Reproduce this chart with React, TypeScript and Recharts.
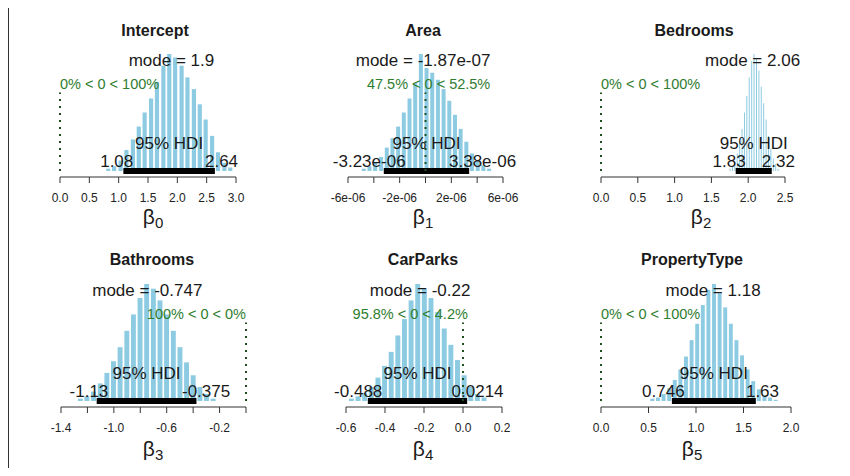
import React from 'react';
import { BarChart, Bar, XAxis, YAxis, ReferenceLine, ReferenceDot } from 'recharts';

const FONT = '"Liberation Sans", Arial, sans-serif';

// panel texts and summary numbers
const titles = ['Intercept', 'Area', 'Bedrooms', 'Bathrooms', 'CarParks', 'PropertyType'];
const modeValues = [1.9, -1.87e-7, 2.06, -0.747, -0.22, 1.18];
const modeLabels = ['1.9', '-1.87e-07', '2.06', '-0.747', '-0.22', '1.18'];
const hdiLow = [1.08, -3.23e-6, 1.83, -1.13, -0.488, 0.746];
const hdiHigh = [2.64, 3.38e-6, 2.32, -0.375, 0.0214, 1.63];
const hdiLowLabels = ['1.08', '-3.23e-06', '1.83', '-1.13', '-0.488', '0.746'];
const hdiHighLabels = ['2.64', '3.38e-06', '2.32', '-0.375', '0.0214', '1.63'];
const pctBelow = [0, 47.5, 0, 100, 95.8, 0];
const pctAbove = [100, 52.5, 100, 0, 4.2, 100];

const tickValues = [
  [0, 0.5, 1, 1.5, 2, 2.5, 3],
  [-6e-6, -4e-6, -2e-6, 0, 2e-6, 4e-6, 6e-6],
  [0, 0.5, 1, 1.5, 2, 2.5],
  [-1.4, -1.2, -1.0, -0.8, -0.6, -0.4, -0.2, 0],
  [-0.6, -0.4, -0.2, 0, 0.2],
  [0, 0.5, 1, 1.5, 2],
];
const tickLabels = [
  ['0.0', '0.5', '1.0', '1.5', '2.0', '2.5', '3.0'],
  ['-6e-06', '', '-2e-06', '', '2e-06', '', '6e-06'],
  ['0.0', '0.5', '1.0', '1.5', '2.0', '2.5'],
  ['-1.4', '', '-1.0', '', '-0.6', '', '-0.2', ''],
  ['-0.6', '-0.4', '-0.2', '0.0', '0.2'],
  ['0.0', '0.5', '1.0', '1.5', '2.0'],
];

// histogram bins: centers and heights (% of tallest bar)
const interceptX = [0.82, 0.92, 1.03, 1.13, 1.24, 1.34, 1.44, 1.55, 1.65, 1.76, 1.86, 1.96, 2.07, 2.17, 2.28, 2.38, 2.48, 2.59, 2.69, 2.8, 2.9];
const interceptH = [2, 4, 9, 18, 27, 38, 50, 62, 76, 90, 100, 97, 90, 80, 70, 57, 44, 30, 16, 7, 3];
const areaX = [-4.79e-6, -4.35e-6, -3.91e-6, -3.45e-6, -3.01e-6, -2.57e-6, -2.13e-6, -1.69e-6, -1.25e-6, -0.81e-6, -0.37e-6, 0.07e-6, 0.51e-6, 0.95e-6, 1.39e-6, 1.83e-6, 2.27e-6, 2.71e-6, 3.15e-6, 3.59e-6, 4.03e-6, 4.47e-6, 4.91e-6];
const areaH = [2, 4, 7, 12, 20, 28, 38, 50, 62, 75, 100, 88, 84, 78, 70, 60, 48, 36, 25, 15, 9, 5, 2];
const bedroomsX = [1.749, 1.781, 1.814, 1.847, 1.879, 1.912, 1.945, 1.977, 2.01, 2.043, 2.075, 2.108, 2.141, 2.173, 2.206, 2.239, 2.271, 2.304, 2.337, 2.369, 2.402];
const bedroomsH = [2, 4, 8, 15, 25, 36, 50, 64, 80, 94, 100, 96, 86, 72, 58, 44, 30, 19, 11, 6, 2];
const bathroomsX = [-1.255, -1.205, -1.155, -1.104, -1.054, -1.004, -0.954, -0.903, -0.853, -0.803, -0.753, -0.702, -0.652, -0.602, -0.551, -0.501, -0.451, -0.401, -0.35, -0.3, -0.25];
const bathroomsH = [2, 4, 8, 15, 24, 34, 46, 60, 74, 88, 100, 96, 86, 74, 60, 46, 33, 22, 12, 6, 2];
const carParksX = [-0.573, -0.539, -0.505, -0.471, -0.437, -0.403, -0.369, -0.335, -0.301, -0.267, -0.233, -0.199, -0.165, -0.131, -0.097, -0.063, -0.029, 0.005, 0.039, 0.073, 0.107];
const carParksH = [2, 4, 7, 12, 20, 30, 42, 56, 70, 86, 100, 96, 88, 76, 62, 48, 35, 22, 12, 6, 3];
const propertyX = [0.539, 0.598, 0.657, 0.716, 0.775, 0.834, 0.893, 0.952, 1.011, 1.07, 1.129, 1.188, 1.247, 1.306, 1.365, 1.424, 1.483, 1.542, 1.601, 1.66, 1.719, 1.778, 1.837];
const propertyH = [2, 3, 6, 11, 18, 27, 38, 52, 66, 82, 95, 100, 92, 80, 66, 52, 39, 27, 17, 10, 5, 3, 1];

const binX = [interceptX, areaX, bedroomsX, bathroomsX, carParksX, propertyX];
const binH = [interceptH, areaH, bedroomsH, bathroomsH, carParksH, propertyH];

// pixel layout of each panel (plot left/right = first/last tick)
const layout = [
  { left: 60, right: 236, row: 0, titleX: 155, labelX: 153 },
  { left: 348, right: 503, row: 0, titleX: 423, labelX: 423 },
  { left: 601, right: 785, row: 0, titleX: 694, labelX: 701 },
  { left: 61, right: 246, row: 1, titleX: 152, labelX: 153 },
  { left: 346, right: 502, row: 1, titleX: 423, labelX: 423 },
  { left: 601, right: 791, row: 1, titleX: 692, labelX: 692 },
];

let ctx: CanvasRenderingContext2D | null = null;
function measure(s: string, size: number) {
  if (!ctx) ctx = document.createElement('canvas').getContext('2d');
  if (!ctx) return s.length * size * 0.55;
  ctx.font = `${size}px ${FONT}`;
  return ctx.measureText(s).width;
}

function textShape(s: string, size: number, adjX: number, lift: number, fill: string) {
  return (p: any) => {
    const w = measure(s, size);
    return (
      <text x={p.cx - adjX * w} y={p.cy - lift} fontSize={size} fontFamily={FONT} fill={fill}>
        {s}
      </text>
    );
  };
}

const YMAX = 100;
const BELOW = (6 / 117) * YMAX;
const M = 40;

function Panel({ i }: { i: number }) {
  const L = layout[i];
  const ticks = tickValues[i];
  const dom: [number, number] = [ticks[0], ticks[ticks.length - 1]];
  const data = binX[i].map((x, k) => ({ x, h: binH[i][k] }));
  const pxPerUnit = (L.right - L.left) / (dom[1] - dom[0]);
  const bin = binX[i][1] - binX[i][0];
  const barPx = Math.max(1, bin * pxPerUnit - 1.7);
  const top = L.row === 0 ? 24 : 254;
  const compText = `${pctBelow[i]}% < 0 < ${pctAbove[i]}%`;
  const hdiMid = (hdiLow[i] + hdiHigh[i]) / 2;
  const ink = '#1a1a1a';
  const green = '#2f7d2f';

  return (
    <>
      <div
        style={{
          position: 'absolute', left: L.titleX, top: L.row === 0 ? 31 : 260,
          transform: 'translate(-50%, -50%)', fontFamily: FONT, fontWeight: 'bold',
          fontSize: 16, color: ink, whiteSpace: 'nowrap', lineHeight: 1,
        }}
      >
        {titles[i]}
      </div>
      <div
        style={{
          position: 'absolute', left: L.labelX, top: L.row === 0 ? 216 : 448,
          transform: 'translate(-50%, -50%)', fontFamily: FONT, fontSize: 21,
          color: ink, whiteSpace: 'nowrap', lineHeight: 1,
        }}
      >
        β<span style={{ fontSize: 15, position: 'relative', top: 4 }}>{i}</span>
      </div>
      <div style={{ position: 'absolute', left: L.left - M, top }}>
        <BarChart
          width={L.right - L.left + 2 * M}
          height={193}
          data={data}
          margin={{ top: 30, right: M, bottom: 0, left: M }}
        >
          <XAxis
            type="number"
            dataKey="x"
            domain={dom}
            ticks={ticks}
            interval={0}
            allowDataOverflow
            height={40}
            tickSize={6}
            tickMargin={10}
            stroke="#333"
            tick={{ fontSize: 12, fill: '#222', fontFamily: FONT }}
            tickFormatter={(v: number) => {
              const k = ticks.findIndex((t) => Math.abs(t - v) < 1e-12);
              return k >= 0 ? tickLabels[i][k] : '';
            }}
          />
          <YAxis hide type="number" domain={[-BELOW, YMAX]} allowDataOverflow />
          <Bar dataKey="h" fill="#8ccbe2" barSize={barPx} isAnimationActive={false} />
          <ReferenceLine
            segment={[{ x: hdiLow[i], y: 0 }, { x: hdiHigh[i], y: 0 }]}
            stroke="#000"
            strokeWidth={6}
          />
          <ReferenceLine
            segment={[{ x: 0, y: 0 }, { x: 0, y: 0.96 * 0.7 * YMAX }]}
            stroke="#1f4f1f"
            strokeWidth={2}
            strokeDasharray="2 5"
            ifOverflow="visible"
          />
          <ReferenceDot x={modeValues[i]} y={0.9 * YMAX} r={0} ifOverflow="visible"
            shape={textShape(`mode = ${modeLabels[i]}`, 17, 0.5, 0, ink)} />
          <ReferenceDot x={0} y={0.7 * YMAX} r={0} ifOverflow="visible"
            shape={textShape(compText, 14.5, pctBelow[i] / 100, 0, green)} />
          <ReferenceDot x={hdiMid} y={0} r={0} ifOverflow="visible"
            shape={textShape('95% HDI', 17, 0.5, 22, ink)} />
          <ReferenceDot x={hdiLow[i]} y={0} r={0} ifOverflow="visible"
            shape={textShape(hdiLowLabels[i], 17, 0.7, 4, ink)} />
          <ReferenceDot x={hdiHigh[i]} y={0} r={0} ifOverflow="visible"
            shape={textShape(hdiHighLabels[i], 17, 0.3, 4, ink)} />
        </BarChart>
      </div>
    </>
  );
}

export default function App() {
  return (
    <div style={{ position: 'relative', width: 850, height: 476, margin: -8, background: '#fff', overflow: 'hidden' }}>
      {/* outer frame: only top and left edges show */}
      <div style={{ position: 'absolute', left: 7, top: 6, width: 843, height: 2, background: '#333' }} />
      <div style={{ position: 'absolute', left: 7, top: 6, width: 2, height: 470, background: '#333' }} />
      {titles.map((_, i) => (
        <Panel key={i} i={i} />
      ))}
    </div>
  );
}
